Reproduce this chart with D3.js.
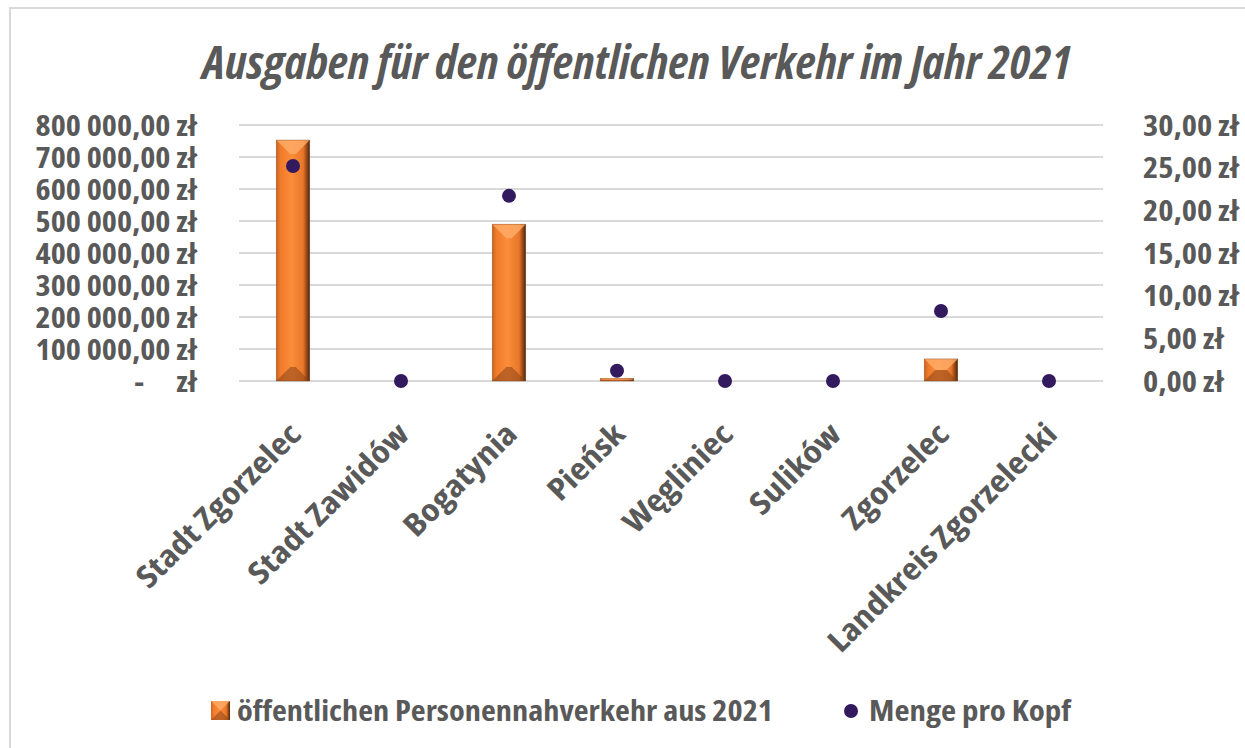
<!DOCTYPE html>
<html>
<head>
<meta charset="utf-8">
<script src="https://cdn.jsdelivr.net/npm/d3@7"></script>
<style>
  body { margin: 0; background: #fff; }
  svg text { font-family: "Open Sans", sans-serif; font-stretch: 75%; font-weight: 700; fill: #595959; }
</style>
</head>
<body>
<div id="vis"></div>
<script>
// data
const gemeinden = ['Stadt Zgorzelec', 'Stadt Zawidów', 'Bogatynia', 'Pieńsk', 'Węgliniec', 'Sulików', 'Zgorzelec', 'Landkreis Zgorzelecki']
const ausgaben = [753000, 0, 490000, 8000, 0, 0, 69000, 0]   // zł, left axis
const proKopf = [25.2, 0, 21.7, 1.2, 0, 0, 8.2, 0]          // zł, right axis
const leftTicks = [0, 100000, 200000, 300000, 400000, 500000, 600000, 700000, 800000]
const rightTicks = [0, 5, 10, 15, 20, 25, 30]

const W = 1245, H = 748
const plot = { left: 239, right: 1103, top: 125, bottom: 381 }

const svg = d3.select('#vis').append('svg')
    .attr('width', W).attr('height', H)

// the condensed face is a bit narrower than the original one, so stretch text a little
function widen(sel, k) {
    sel.each(function() {
        const w = this.getComputedTextLength()
        d3.select(this).attr('textLength', w * k).attr('lengthAdjust', 'spacingAndGlyphs')
    })
}
function fitTo(sel, w) {
    sel.attr('textLength', w).attr('lengthAdjust', 'spacingAndGlyphs')
}

// outer frame of the chart
svg.append('rect')
    .attr('x', 10).attr('y', 8)
    .attr('width', W).attr('height', H)
    .attr('fill', 'none').attr('stroke', '#d9d9d9').attr('stroke-width', 2)

const x = d3.scaleBand().domain(gemeinden).range([plot.left, plot.right])
    .paddingInner(0.69).paddingOuter(0.345)
const xc = d => x(d) + x.bandwidth() / 2
const yL = d3.scaleLinear().domain([0, 800000]).range([plot.bottom, plot.top])
const yR = d3.scaleLinear().domain([0, 30]).range([plot.bottom, plot.top])

const fmtL = v => v === 0 ? '-\u2002\u2002zł' : d3.format(',.2f')(v).replace(/,/g, ' ').replace('.', ',') + ' zł'
const fmtR = v => d3.format('.2f')(v).replace('.', ',') + ' zł'

// gridlines
svg.append('g').selectAll('line').data(leftTicks).join('line')
    .attr('x1', plot.left).attr('x2', plot.right)
    .attr('y1', d => yL(d)).attr('y2', d => yL(d))
    .attr('stroke', '#d9d9d9').attr('stroke-width', 2)

// left axis
svg.append('g').attr('transform', `translate(${plot.left - 42},0)`)
    .call(d3.axisLeft(yL).tickValues(leftTicks).tickFormat(fmtL).tickSize(0).tickPadding(0))
    .call(g => g.select('.domain').remove())
    .selectAll('text').attr('font-size', 28).attr('dy', '0.36em')
    .call(widen, 1.15)

// right axis
svg.append('g').attr('transform', `translate(${plot.right + 40},0)`)
    .call(d3.axisRight(yR).tickValues(rightTicks).tickFormat(fmtR).tickSize(0).tickPadding(0))
    .call(g => g.select('.domain').remove())
    .selectAll('text').attr('font-size', 28).attr('dy', '0.36em')
    .call(widen, 1.16)

// bevelled orange bars
const defs = svg.append('defs')
const grad = defs.append('linearGradient').attr('id', 'barGrad')
    .attr('x1', 0).attr('x2', 1).attr('y1', 0).attr('y2', 0)
grad.selectAll('stop').data([
    [0, '#c8621e'], [0.12, '#f07a2a'], [0.45, '#fb8d3a'], [0.8, '#e9772b'], [0.9, '#a04c17'], [1, '#4a250c']
]).join('stop').attr('offset', d => d[0]).attr('stop-color', d => d[1])

const bars = svg.append('g').selectAll('g').data(gemeinden).join('g')
bars.each(function(d, i) {
    const g = d3.select(this)
    const x0 = x(d), w = x.bandwidth()
    const y0 = yL(ausgaben[i]), y1 = yL(0)
    const h = y1 - y0
    if (h <= 0) return
    g.append('rect').attr('x', x0).attr('y', y0).attr('width', w).attr('height', h)
        .attr('fill', 'url(#barGrad)')
    const b = Math.min(w / 2, h / 2, 14)
    // top bevel (lighter)
    g.append('path')
        .attr('d', `M${x0},${y0} L${x0 + w},${y0} L${x0 + w - b},${y0 + b} L${x0 + b},${y0 + b} Z`)
        .attr('fill', '#ffad6a').attr('opacity', 0.8)
    // bottom bevel (darker)
    g.append('path')
        .attr('d', `M${x0},${y1} L${x0 + w},${y1} L${x0 + w - b},${y1 - b} L${x0 + b},${y1 - b} Z`)
        .attr('fill', '#8a4416').attr('opacity', 0.55)
    g.append('rect').attr('x', x0).attr('y', y0).attr('width', w).attr('height', h)
        .attr('fill', 'none').attr('stroke', '#7a3a10').attr('stroke-width', 0.6).attr('opacity', 0.6)
})

// per capita dots
svg.append('g').selectAll('circle').data(gemeinden).join('circle')
    .attr('cx', d => xc(d))
    .attr('cy', (d, i) => yR(proKopf[i]))
    .attr('r', 7)
    .attr('fill', '#33195e')

// category labels, rotated
svg.append('g').selectAll('text').data(gemeinden).join('text')
    .attr('transform', d => `translate(${xc(d) + 10},${plot.bottom + 55}) rotate(-45)`)
    .attr('text-anchor', 'end')
    .attr('font-size', 31)
    .text(d => d)
    .call(widen, 1.2)

// title
svg.append('text')
    .attr('x', 637).attr('y', 79)
    .attr('text-anchor', 'middle')
    .attr('font-size', 47)
    .attr('font-style', 'italic')
    .text('Ausgaben für den öffentlichen Verkehr im Jahr 2021')
    .call(fitTo, 869)

// legend
const leg = svg.append('g').attr('transform', 'translate(0,711)')
leg.append('rect').attr('x', 211).attr('y', -10).attr('width', 19).attr('height', 19).attr('fill', 'url(#barGrad)')
leg.append('path').attr('d', 'M211,-10 L230,-10 L220.5,-0.5 Z').attr('fill', '#ffad6a').attr('opacity', 0.8)
leg.append('path').attr('d', 'M211,9 L230,9 L220.5,-0.5 Z').attr('fill', '#8a4416').attr('opacity', 0.55)
leg.append('text').attr('x', 237).attr('dy', '0.36em').attr('font-size', 29)
    .text('öffentlichen Personennahverkehr aus 2021')
    .call(fitTo, 536)
leg.append('circle').attr('cx', 851).attr('cy', 0).attr('r', 7).attr('fill', '#33195e')
leg.append('text').attr('x', 869).attr('dy', '0.36em').attr('font-size', 29)
    .text('Menge pro Kopf')
    .call(fitTo, 202)
</script>
</body>
</html>
